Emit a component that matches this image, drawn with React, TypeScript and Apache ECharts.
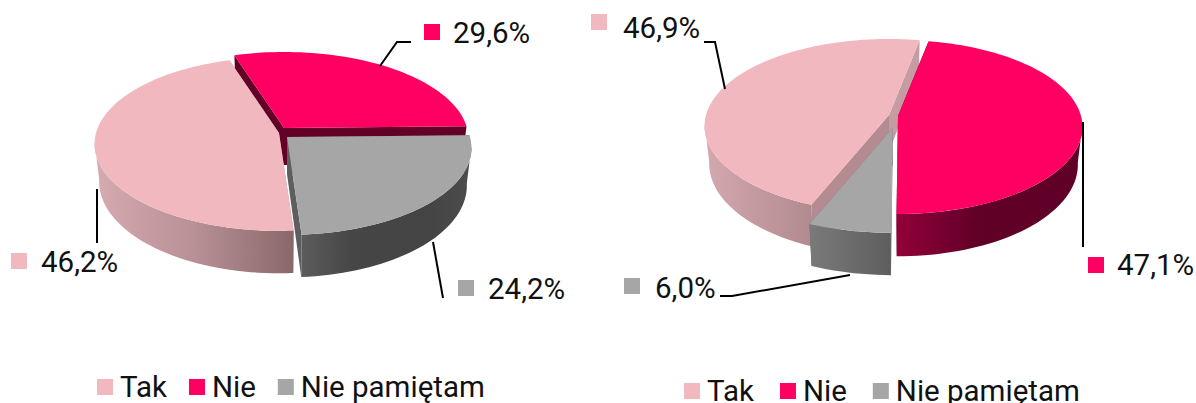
import React, { useEffect, useRef } from "react";
import * as echarts from "echarts";

const categories = ["Tak", "Nie", "Nie pamiętam"];
const valuesLeft = [46.2, 29.6, 24.2];
const valuesRight = [46.9, 47.1, 6.0];
const labelsLeft = ["46,2%", "29,6%", "24,2%"];
const labelsRight = ["46,9%", "47,1%", "6,0%"];
const colors = ["#F2B8C0", "#FF0062", "#A6A6A6"];

type Stops = [number, string][];
type Pie = {
  name: string;
  values: number[];
  startAngle: number;
  drawOrder: number[];
  apex: number[][];
  scale: number[];
  sideStops: Stops[];
  faces: string[][];
};

const R = 183, RY = 85.6, K = 0.126, DEPTH = 37, SHRINK = 0.975;

const pies: Pie[] = [
  {
    name: "left",
    values: valuesLeft,
    startAngle: 176,
    drawOrder: [1, 2, 0],
    apex: [[279, 133], [284, 128], [287, 137]],
    scale: [1, 1, 1],
    sideStops: [
      [[0, "#D6AAB1"], [0.5, "#B89095"], [1, "#8A686A"]],
      [[0, "#7A0030"], [1, "#600028"]],
      [[0, "#5C5C5C"], [0.3, "#464646"], [0.75, "#444444"], [1, "#4C4C4C"]],
    ],
    faces: [["#B48B90", "#B48B90"], ["#640028", "#640028"], ["#5E5E5E", "#5E5E5E"]],
  },
  {
    name: "right",
    values: valuesRight,
    startAngle: 202,
    drawOrder: [0, 1, 2],
    apex: [[889, 115], [898, 116], [892.5, 128]],
    scale: [1, 1, 1.07],
    sideStops: [
      [[0, "#D4A8AF"], [1, "#B08A8E"]],
      [[0, "#92003C"], [0.45, "#600026"], [1, "#600028"]],
      [[0, "#7A7A7A"], [1, "#5E5E5E"]],
    ],
    faces: [["#B48B90", "#C69CA2"], ["#640028", "#640028"], ["#707070", "#707070"]],
  },
];

const project = (apex: number[], deg: number, bottom: boolean, scale: number) => {
  const t = (deg * Math.PI) / 180;
  const u = Math.sin(t), v = -Math.cos(t);
  const s = 1 / (1 - K * v);
  return [
    apex[0] + R * scale * u * s * (bottom ? SHRINK : 1),
    apex[1] + RY * scale * v * s + (bottom ? DEPTH * s : 0),
  ];
};

const rim = (apex: number[], a: number, b: number, bottom: boolean, scale: number) => {
  const pts: number[][] = [];
  const n = Math.max(2, Math.ceil((b - a) / 2));
  for (let i = 0; i <= n; i++) pts.push(project(apex, a + ((b - a) * i) / n, bottom, scale));
  return pts;
};

const frontRange = (a: number, b: number): number[] | null => {
  // visible wall: part of the rim that faces the viewer
  const lo = 96, hi = 264;
  const x = a % 360;
  const y = x + (b - a);
  const from = Math.max(x, lo), to = Math.min(y, hi);
  return from < to ? [from, to] : null;
};

const makeSeries = (pie: Pie) => {
  const total = pie.values.reduce((p, c) => p + c, 0);
  const spans: number[][] = [];
  let cur = pie.startAngle;
  pie.values.forEach((val) => {
    const d = (val / total) * 360;
    spans.push([cur, cur + d]);
    cur += d;
  });
  return {
    type: "custom",
    name: pie.name,
    coordinateSystem: "none",
    silent: true,
    data: pie.drawOrder.map((i) => ({ name: categories[i], value: [pie.values[i], i] })),
    renderItem: (_p: any, api: any) => {
      const i = api.value(1);
      const [a, b] = spans[i];
      const apex = pie.apex[i];
      const sc = pie.scale[i];
      const A = apex;
      const A2 = [apex[0], apex[1] + DEPTH];
      const children: any[] = [];
      [[b, 1], [a, 0]].forEach(([deg, f]) => {
        children.push({
          type: "polygon",
          shape: { points: [A, project(apex, deg, false, sc), project(apex, deg, true, sc), A2] },
          style: { fill: pie.faces[i][f] },
        });
      });
      const fr = frontRange(a, b);
      if (fr) {
        const top = rim(apex, fr[0], fr[1], false, sc);
        const bot = rim(apex, fr[0], fr[1], true, sc).reverse();
        children.push({
          type: "polygon",
          shape: { points: top.concat(bot) },
          style: {
            fill: new echarts.graphic.LinearGradient(
              0, 0, 1, 0,
              pie.sideStops[i].map(([offset, color]) => ({ offset, color }))
            ),
          },
        });
      }
      children.push({
        type: "polygon",
        shape: { points: [A, ...rim(apex, a, b, false, sc)] },
        style: { fill: colors[i] },
      });
      return { type: "group", children };
    },
  };
};

const FONT = "Roboto";
const LABEL_SIZE = 29.5;

const callouts = [
  { label: labelsLeft[0], color: colors[0], sq: [11, 253], tx: [41, 262] },
  { label: labelsLeft[1], color: colors[1], sq: [424, 24], tx: [453, 33] },
  { label: labelsLeft[2], color: colors[2], sq: [458, 280], tx: [488, 289] },
  { label: labelsRight[0], color: colors[0], sq: [591, 14], tx: [623, 28] },
  { label: labelsRight[1], color: colors[1], sq: [1088, 257], tx: [1117, 265] },
  { label: labelsRight[2], color: colors[2], sq: [624, 278], tx: [655, 288] },
];

const leaders = [
  [[380, 66], [397, 42], [411, 42]],
  [[97, 189], [97, 243]],
  [[433, 242], [443, 298]],
  [[725, 89], [715, 42], [704, 42]],
  [[1083, 122], [1083, 247]],
  [[850, 275], [732, 296], [720, 296]],
];

const legendFor = (left: number, top: number, gap: number) => ({
  left,
  top,
  padding: 0,
  orient: "horizontal",
  icon: "rect",
  itemWidth: 16,
  itemHeight: 16,
  itemGap: gap,
  selectedMode: false,
  data: categories,
  textStyle: { fontFamily: FONT, fontSize: LABEL_SIZE, color: "#111", padding: [0, 0, 0, 2] },
});

export default function App() {
  const ref = useRef<HTMLDivElement>(null);
  useEffect(() => {
    document.body.style.margin = "0";
    const chart = echarts.init(ref.current!, undefined, { renderer: "svg" });
    chart.setOption({
      animation: false,
      backgroundColor: "#fff",
      color: colors,
      legend: [legendFor(97, 372, 22), legendFor(684, 376, 26)],
      series: [
        ...pies.map(makeSeries),
        ...categories.map((name, i) => ({
          type: "custom",
          name,
          coordinateSystem: "none",
          data: [],
          itemStyle: { color: colors[i] },
          renderItem: () => null,
        })),
      ],
      graphic: [
        ...leaders.map((points) => ({
          type: "polyline",
          z: 10,
          shape: { points },
          style: { fill: null, stroke: "#000", lineWidth: 2 },
        })),
        ...callouts.flatMap((c) => [
          {
            type: "rect",
            z: 10,
            shape: { x: c.sq[0], y: c.sq[1], width: 16, height: 16 },
            style: { fill: c.color },
          },
          {
            type: "text",
            z: 10,
            style: {
              x: c.tx[0],
              y: c.tx[1],
              text: c.label,
              fill: "#111",
              font: `${LABEL_SIZE}px ${FONT}`,
              verticalAlign: "middle",
            },
          },
        ]),
      ],
    });
    return () => chart.dispose();
  }, []);
  return (
    <div
      ref={ref}
      style={{ position: "fixed", left: 0, top: 0, width: 1196, height: 403, overflow: "hidden" }}
    />
  );
}
